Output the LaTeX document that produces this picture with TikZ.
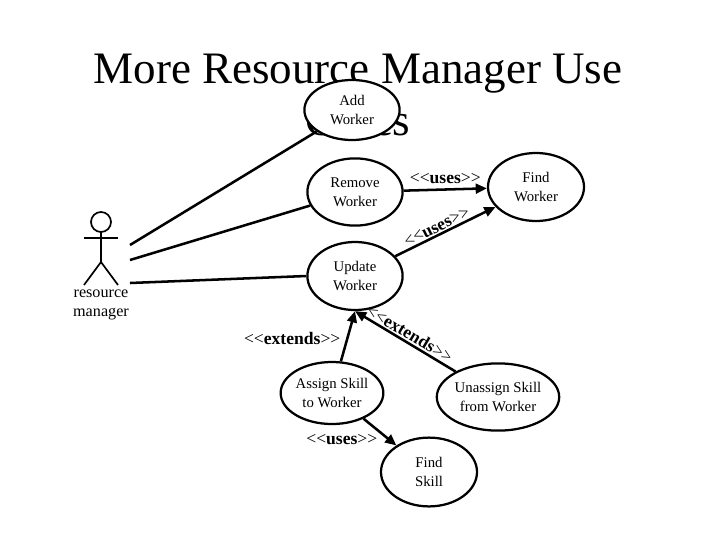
\documentclass[tikz,border=0pt]{standalone}
\usepackage{fontspec}
\setmainfont{Liberation Serif}
\usetikzlibrary{arrows.meta,shapes.geometric}
\begin{document}
\begin{tikzpicture}[x=0.025cm,y=-0.025cm]
    % Styles
    \tikzset{
        usecase/.style={
            draw,
            ellipse,
            fill=white,
            line width=1.6pt,
            align=center,
            font=\fontsize{10.5}{13.5}\selectfont,
            inner sep=0pt
        },
        link/.style={
            line width=1.8pt
        },
        arrow/.style={
            -{Triangle[length=8pt,width=7pt]},
            line width=1.8pt
        },
        stereo/.style={
            font=\fontsize{12.5}{14}\selectfont,
            inner sep=1pt
        }
    }
    \useasboundingbox (0,0) rectangle (720,540);

    % Title
    \node[font=\fontsize{32}{37}\selectfont, align=center] (title) at (358,95) {More Resource Manager Use\\Cases};

    % Actor
    \draw[line width=1.2pt] (101,222) circle (0.25cm);
    \coordinate (neck) at (101,232);
    \coordinate (hip) at (101,262);
    \draw[line width=1.2pt] (neck) -- (hip);
    \draw[line width=1.2pt] (84,238) -- (118,238);
    \draw[line width=1.2pt] (84,285) -- (hip) -- (118,285);
    \node[align=center, font=\fontsize{11.5}{13}\selectfont] (actor) at (101,305) {resource\\manager};
    \coordinate (a1) at (130,245);
    \coordinate (a2) at (130,260);
    \coordinate (a3) at (130,283);

    % Use cases
    \node[usecase, minimum width=2.38cm, minimum height=1.5cm] (add) at (352,110) {Add\\Worker};
    \node[usecase, minimum width=2.38cm, minimum height=1.68cm] (remove) at (355,192) {Remove\\Worker};
    \node[usecase, minimum width=2.4cm, minimum height=1.7cm] (findw) at (536,187) {Find\\Worker};
    \node[usecase, minimum width=2.38cm, minimum height=1.7cm] (update) at (355,276) {Update\\Worker};
    \node[usecase, minimum width=2.4cm, minimum height=1.55cm] (assign) at (332,393) {Assign Skill\\to Worker};
    \node[usecase, minimum width=2.98cm, minimum height=1.68cm] (unassign) at (498,397) {Unassign Skill\\from Worker};
    \node[usecase, minimum width=2.4cm, minimum height=1.72cm] (finds) at (429,472) {Find\\Skill};

    % Actor associations
    \draw[link] (a1) -- (add);
    \draw[link] (a2) -- (remove);
    \draw[link] (a3) -- (update.west);

    % Relations
    \draw[arrow] (remove) -- (findw) node[midway, above=2pt, stereo] {<{}<\textbf{uses}>{}>};
    \draw[arrow] (update) -- (findw) node[pos=0.45, sloped, above, stereo] {<{}<\textbf{uses}>{}>};
    \draw[arrow] (assign) -- (update.south) node[pos=0.45, left=3pt, stereo] {<{}<\textbf{extends}>{}>};
    \draw[arrow] (unassign) -- (update.south) node[midway, sloped, above, stereo] {<{}<\textbf{extends}>{}>};
    \draw[arrow] (assign) -- (finds) node[midway, below left, stereo] {<{}<\textbf{uses}>{}>};
\end{tikzpicture}
\end{document}
